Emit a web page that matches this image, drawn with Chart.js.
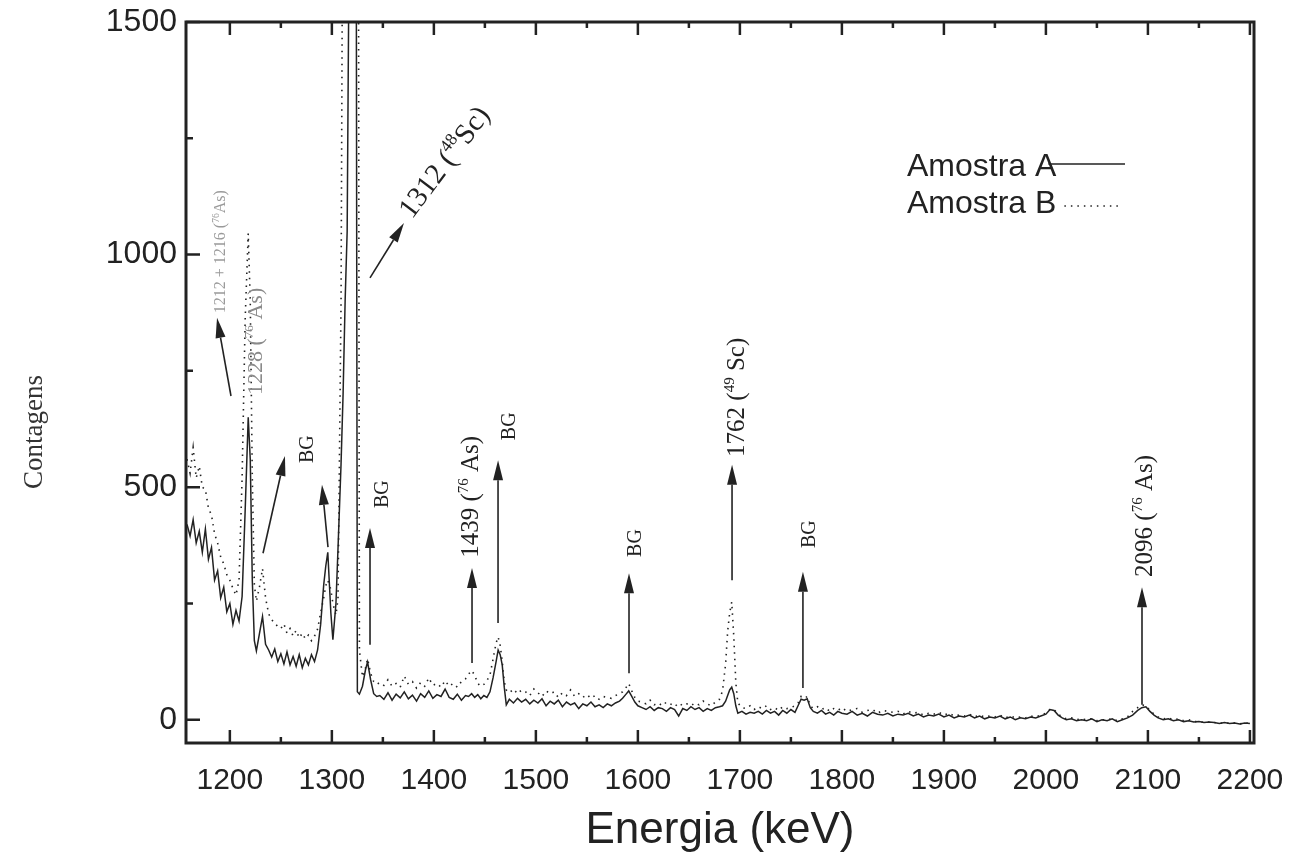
<!DOCTYPE html>
<html><head><meta charset="utf-8">
<script src="https://cdn.jsdelivr.net/npm/chart.js@4.4.1/dist/chart.umd.min.js"></script>
<style>html,body{margin:0;padding:0;background:#fff;}canvas{display:block;}</style>
</head><body>
<canvas id="c" width="1293" height="863"></canvas>
<script>
// ---- data (energy in keV, counts) ----
const energies = [1158,1161,1164,1167,1170,1173,1176,1179,1182,1185,
 1188,1191,1194,1197,1200,1203,1206,1209,1212,1215,
 1218,1220,1222,1224,1226,1229,1232,1235,1238,1241,
 1244,1247,1250,1253,1256,1259,1262,1265,1268,1271,
 1274,1277,1280,1283,1286,1289,1292,1294,1296,1299,
 1301,1304,1306,1309,1311,1313,1315,1317,1318,1319,
 1321,1323,1325,1327,1330,1333,1335,1338,1341,1344,
 1347,1351,1355,1359,1363,1367,1371,1375,1379,1383,
 1387,1391,1395,1399,1403,1407,1411,1415,1419,1423,
 1427,1431,1434,1437,1440,1443,1446,1449,1452,1455,
 1458,1461,1463,1465,1467,1469,1471,1474,1478,1482,
 1486,1490,1494,1498,1502,1506,1510,1514,1518,1522,
 1526,1530,1534,1538,1542,1546,1550,1554,1558,1562,
 1566,1570,1574,1578,1582,1585,1588,1591,1594,1597,
 1600,1604,1608,1612,1616,1620,1624,1628,1632,1636,
 1640,1644,1648,1652,1656,1660,1664,1668,1672,1676,
 1680,1683,1686,1688,1690,1692,1694,1696,1698,1702,
 1706,1710,1714,1718,1722,1726,1730,1734,1738,1742,
 1746,1750,1754,1757,1760,1763,1766,1769,1772,1776,
 1780,1784,1788,1792,1796,1800,1805,1810,1815,1820,
 1825,1830,1835,1840,1845,1850,1855,1860,1865,1870,
 1875,1880,1885,1890,1895,1900,1905,1910,1915,1920,
 1925,1930,1935,1940,1945,1950,1955,1960,1965,1970,
 1975,1980,1985,1990,1995,2000,2004,2008,2012,2016,
 2020,2025,2030,2035,2040,2045,2050,2055,2060,2065,
 2070,2075,2080,2085,2090,2094,2098,2102,2106,2110,
 2115,2120,2125,2130,2135,2140,2145,2150,2155,2160,
 2165,2170,2175,2180,2185,2190,2195,2200];

const countsA = [420,395,430,380,405,360,410,345,370,300,
 320,262,285,232,250,205,235,212,265,450,
 650,560,300,170,148,185,222,162,150,135,
 152,125,142,120,146,118,136,115,140,112,
 132,118,140,125,150,205,290,330,360,230,
 172,250,367,550,700,900,1050,1700,3000,5000,
 5000,3000,60,55,72,108,124,86,56,50,
 52,44,58,42,55,47,60,45,53,40,
 56,48,62,46,54,50,66,48,44,55,
 42,52,50,56,48,54,45,52,48,60,
 90,125,150,140,118,70,32,44,36,46,
 38,44,34,42,36,45,30,40,34,42,
 28,38,32,36,24,34,30,38,28,32,
 26,34,30,36,40,46,54,62,50,38,
 30,26,22,28,20,26,24,18,26,22,
 8,24,20,28,22,26,18,24,20,26,
 28,30,40,52,64,70,56,30,14,18,
 12,16,14,18,12,20,14,18,10,20,
 14,22,16,30,44,42,45,26,18,14,
 20,12,16,10,18,14,12,18,10,14,
 8,16,12,10,14,8,12,10,14,8,
 12,6,10,8,12,6,10,4,8,6,
 10,4,8,2,6,4,8,2,6,0,
 4,2,6,4,8,12,22,20,10,4,
 0,2,-2,0,-2,2,-4,0,-2,2,
 -4,0,4,10,20,26,28,18,10,4,
 0,2,-2,0,-4,-2,-5,-4,-6,-5,
 -6,-8,-6,-8,-7,-9,-7,-8];

const countsB = [560,530,585,520,545,500,495,455,440,400,
 380,350,335,312,300,282,268,300,520,860,
 1045,900,520,290,255,285,325,262,228,215,
 208,200,196,206,186,196,180,192,176,186,
 174,182,170,180,195,230,262,288,300,280,
 250,225,260,900,2000,4000,5000,5000,5000,5000,
 5000,5000,3500,150,92,112,131,100,82,76,
 80,74,86,72,78,70,94,76,82,68,
 80,72,90,74,78,70,84,72,78,70,
 82,88,98,106,96,78,72,76,84,96,
 130,165,178,160,126,82,64,58,66,56,
 64,60,52,66,58,50,62,56,60,48,
 58,52,64,50,56,48,54,46,52,44,
 50,48,46,52,56,60,68,78,62,48,
 40,38,34,42,32,36,30,38,34,28,
 36,30,34,30,36,32,40,34,30,38,
 44,62,120,190,230,253,180,80,36,26,
 24,30,22,28,24,30,22,26,20,28,
 24,26,30,36,50,46,50,30,24,28,
 22,26,18,24,20,26,18,22,24,16,
 20,22,14,20,18,16,18,12,18,14,
 16,10,14,12,16,10,14,8,10,8,
 12,6,10,6,8,6,10,4,8,4,
 6,4,8,6,10,14,22,22,12,6,
 2,4,0,2,0,2,-2,0,0,2,
 -2,2,6,18,26,32,30,20,12,6,
 2,4,0,2,-2,0,-4,-4,-6,-5,
 -6,-8,-6,-8,-7,-9,-7,-8];

const seriesNames = ['Amostra A', 'Amostra B'];
const xTickLabels = [1200,1300,1400,1500,1600,1700,1800,1900,2000,2100,2200];
const yTickLabels = [0,500,1000,1500];
const xAxisTitle = 'Energia (keV)';
const yAxisTitle = 'Contagens';

// annotation arrows: tail -> tip, in data coordinates [keV, counts]
const arrowTails = [[1201.1,696],[1337.4,950],[1232.5,358],[1296.2,371],[1337.4,161],[1437.4,122],[1462.9,208],[1591.3,100],[1692.3,300],[1761.8,68],[2094.2,32]];
const arrowTips  = [[1187.4,864],[1370.7,1068],[1254.0,567],[1290.3,505],[1337.4,412],[1437.4,326],[1462.9,558],[1591.3,315],[1692.3,548],[1761.8,318],[2094.2,285]];

// annotation labels: baseline start in data coords, text parts ([text, isSuperscript])
const labelAnchors = [[1195.2,874],[1231.5,698],[1378.6,1075],[1281.5,552],[1355.0,455],[1443.2,348],[1479.5,601],[1603.0,350],[1704.0,565],[1773.6,369],[2104.0,307]];
const labelParts = [
  [['1212 + 1216 ('],['76',1],['As)']],
  [['1228 ('],['76',1],[' As)']],
  [['1312 ('],['48',1],['Sc)']],
  [['BG']],
  [['BG']],
  [['1439 ('],['76',1],[' As)']],
  [['BG']],
  [['BG']],
  [['1762 ('],['49',1],[' Sc)']],
  [['BG']],
  [['2096 ('],['76',1],[' As)']]
];
const labelAngles = [-90,-90,-53,-90,-90,-90,-90,-90,-90,-90,-90];
const labelSizes  = [16,22,29,20,20,25,20,20,25,20,25];
const labelColors = ['#9a9a9a','#8a8a8a','#222','#222','#222','#222','#222','#222','#222','#222','#222'];

const INK = '#222';
const SERIF = '"Liberation Serif","Times New Roman",serif';
const SANS = '"Liberation Sans",Arial,Helvetica,sans-serif';
const DOTS = [1.5, 5];

function drawRich(ctx, x, y, angle, size, color, parts) {
  ctx.save();
  ctx.translate(x, y);
  ctx.rotate(angle * Math.PI / 180);
  ctx.fillStyle = color;
  ctx.textAlign = 'left';
  ctx.textBaseline = 'alphabetic';
  let cx = 0;
  for (const [t, sup] of parts) {
    const fs = sup ? size * 0.6 : size;
    ctx.font = fs + 'px ' + SERIF;
    ctx.fillText(t, cx, sup ? -size * 0.4 : 0);
    cx += ctx.measureText(t).width;
  }
  ctx.restore();
}

function drawArrow(ctx, x1, y1, x2, y2) {
  const ang = Math.atan2(y2 - y1, x2 - x1);
  const hl = 20, hw = 5;
  const bx = x2 - hl * Math.cos(ang), by = y2 - hl * Math.sin(ang);
  ctx.beginPath();
  ctx.moveTo(x1, y1); ctx.lineTo(bx, by);
  ctx.stroke();
  ctx.beginPath();
  ctx.moveTo(x2, y2);
  ctx.lineTo(bx + hw * Math.sin(ang), by - hw * Math.cos(ang));
  ctx.lineTo(bx - hw * Math.sin(ang), by + hw * Math.cos(ang));
  ctx.closePath();
  ctx.fill();
}

const decor = {
  id: 'decor',
  afterDraw(chart) {
    const {ctx, chartArea: a, scales: {x, y}} = chart;
    ctx.save();
    // frame
    ctx.strokeStyle = INK; ctx.lineWidth = 3;
    ctx.strokeRect(a.left, a.top, a.right - a.left, a.bottom - a.top);
    // ticks (inward), majors at labels, minors midway
    ctx.lineWidth = 2.5;
    ctx.beginPath();
    const xs = [];
    xTickLabels.forEach((v, i) => {
      xs.push([v, 13]);
      if (i < xTickLabels.length - 1) xs.push([(v + xTickLabels[i + 1]) / 2, 6]);
    });
    for (const [v, L] of xs) {
      const px = x.getPixelForValue(v);
      if (px < a.left || px > a.right) continue;
      ctx.moveTo(px, a.bottom); ctx.lineTo(px, a.bottom - L);
      ctx.moveTo(px, a.top); ctx.lineTo(px, a.top + L);
    }
    const ys = [];
    yTickLabels.forEach((v, i) => {
      ys.push([v, 14]);
      if (i < yTickLabels.length - 1) ys.push([(v + yTickLabels[i + 1]) / 2, 7]);
    });
    for (const [v, L] of ys) {
      const py = y.getPixelForValue(v);
      ctx.moveTo(a.left, py); ctx.lineTo(a.left + L, py);
    }
    ctx.stroke();

    // arrows
    ctx.strokeStyle = INK; ctx.fillStyle = INK; ctx.lineWidth = 1.6;
    arrowTails.forEach((t, i) => {
      const h = arrowTips[i];
      drawArrow(ctx, x.getPixelForValue(t[0]), y.getPixelForValue(t[1]),
                x.getPixelForValue(h[0]), y.getPixelForValue(h[1]));
    });
    // labels
    labelAnchors.forEach((p, i) => {
      drawRich(ctx, x.getPixelForValue(p[0]), y.getPixelForValue(p[1]),
               labelAngles[i], labelSizes[i], labelColors[i], labelParts[i]);
    });

    // legend (text then line sample)
    ctx.font = '32px ' + SANS;
    ctx.fillStyle = INK;
    ctx.textAlign = 'left'; ctx.textBaseline = 'alphabetic';
    const lx = a.left + 721;
    ctx.fillText(seriesNames[0], lx, 176);
    const wA = ctx.measureText(seriesNames[0]).width;
    ctx.fillText(seriesNames[1], lx, 213);
    const wB = ctx.measureText(seriesNames[1]).width;
    ctx.lineWidth = 1.5;
    ctx.beginPath(); ctx.moveTo(lx + wA - 8, 164); ctx.lineTo(1125, 164); ctx.stroke();
    ctx.setLineDash(DOTS);
    ctx.beginPath(); ctx.moveTo(lx + wB + 8, 206); ctx.lineTo(1120, 206); ctx.stroke();
    ctx.setLineDash([]);

    // y axis title
    ctx.save();
    ctx.translate(35, 432);
    ctx.rotate(-Math.PI / 2);
    ctx.font = '27px ' + SERIF;
    ctx.fillStyle = '#333';
    ctx.textAlign = 'center'; ctx.textBaseline = 'middle';
    ctx.fillText(yAxisTitle, 0, 0);
    ctx.restore();
    ctx.restore();
  }
};

new Chart(document.getElementById('c'), {
  type: 'line',
  data: {
    datasets: [
      { label: seriesNames[0], data: energies.map((e, i) => ({x: e, y: countsA[i]})),
        borderColor: INK, borderWidth: 1.5, pointRadius: 0, tension: 0 },
      { label: seriesNames[1], data: energies.map((e, i) => ({x: e, y: countsB[i]})),
        borderColor: INK, borderWidth: 1.6, borderDash: DOTS, pointRadius: 0, tension: 0 }
    ]
  },
  options: {
    responsive: false,
    animation: false,
    devicePixelRatio: 1,
    layout: { padding: { left: 14, right: 39, top: 22, bottom: 0 } },
    plugins: { legend: { display: false }, tooltip: { enabled: false } },
    scales: {
      x: {
        type: 'linear', min: 1157, max: 2204,
        grid: { display: false, drawTicks: false },
        border: { display: false },
        afterBuildTicks(s) { s.ticks = xTickLabels.map(v => ({ value: v })); },
        ticks: { padding: 20, color: INK, callback: v => String(v),
                 font: { family: SANS, size: 30 }, maxRotation: 0, autoSkip: false },
        title: { display: true, text: xAxisTitle, color: INK,
                 font: { family: SANS, size: 44 }, padding: { top: 0, bottom: 6 } },
        afterFit(s) { s.height = 120; s.paddingLeft = 0; s.paddingRight = 0; }
      },
      y: {
        type: 'linear', min: -50, max: 1500,
        grid: { display: false, drawTicks: false },
        border: { display: false },
        afterBuildTicks(s) { s.ticks = yTickLabels.map(v => ({ value: v })); },
        ticks: { padding: 9, color: INK, autoSkip: false, callback: v => String(v),
                 font: { family: SANS, size: 32 } },
        afterFit(s) { s.width = 172; s.paddingTop = 0; s.paddingBottom = 0; }
      }
    }
  },
  plugins: [decor]
});
</script>
</body></html>
